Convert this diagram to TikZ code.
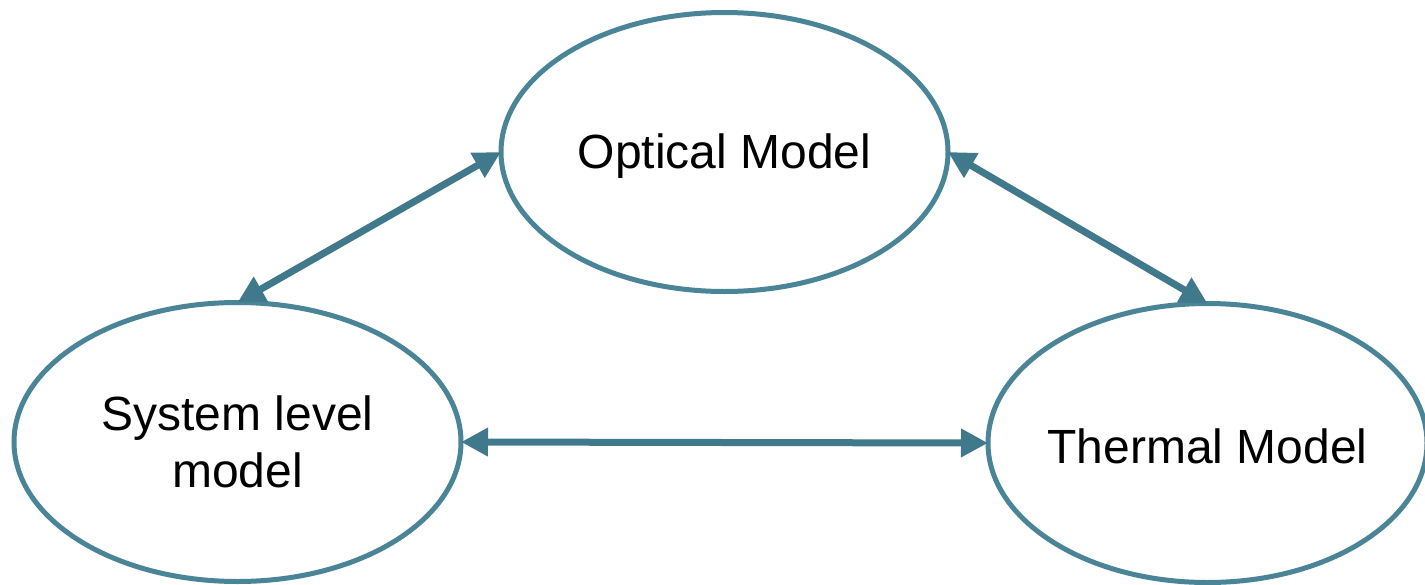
\documentclass[tikz,border=0pt]{standalone}
\usepackage{fontspec}
\setmainfont{Liberation Sans}
\usetikzlibrary{shapes.geometric,arrows.meta}
\definecolor{ellcol}{HTML}{4A8497}
\definecolor{arrcol}{HTML}{41798C}
\tikzset{
  model/.style={ellipse, draw=ellcol, line width=5pt, fill=white,
    minimum width=447pt, minimum height=279pt, inner sep=0pt, outer sep=0pt,
    align=center, font=\fontsize{48}{57}\selectfont},
  link/.style={draw=arrcol, line width=7pt,
    {Triangle[length=27pt,width=27pt]}-{Triangle[length=27pt,width=27pt]}}
}
\begin{document}
\begin{tikzpicture}[x=1pt,y=-1pt]
\useasboundingbox (0,0) rectangle (1425,584);
\node[model] (opt) at (724.5,152) {\raisebox{-4pt}[\height][\depth]{Optical Model}};
\node[model] (sys) at (237.5,442) {System level\\model};
\node[model, minimum width=439pt] (therm) at (1207.5,443) {\makebox[290pt]{\raisebox{-3pt}[\height][\depth]{Thermal Model}}};
\draw[link] (sys.north) -- (opt.west);
\draw[link] (opt.east) -- (therm.north);
\draw[link] (sys.east) -- (therm.west);
\end{tikzpicture}
\end{document}
